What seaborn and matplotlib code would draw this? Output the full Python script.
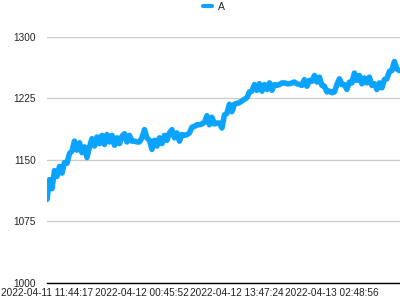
import matplotlib
matplotlib.use("Agg")
import matplotlib.pyplot as plt
import matplotlib.dates as mdates
import seaborn as sns
import pandas as pd

series_name = "A"
start_time = "2022-04-11 11:44:17"
step_seconds = 1234
values = [
    1102, 1126, 1115, 1137, 1130, 1142, 1134, 1147, 1146, 1158,
    1161, 1173, 1162, 1171, 1159, 1166, 1153, 1166, 1176, 1167,
    1178, 1170, 1180, 1169, 1181, 1172, 1180, 1168, 1177, 1170,
    1179, 1182, 1172, 1180, 1173, 1173, 1172, 1172, 1177, 1187,
    1177, 1174, 1163, 1174, 1167, 1177, 1170, 1180, 1174, 1183,
    1187, 1177, 1183, 1173, 1181, 1180, 1181, 1183, 1190, 1191,
    1193, 1193, 1194, 1196, 1204, 1193, 1202, 1194, 1195, 1195,
    1189, 1205, 1207, 1218, 1209, 1218, 1219, 1220, 1222, 1224,
    1226, 1233, 1234, 1242, 1235, 1243, 1234, 1242, 1236, 1244,
    1235, 1242, 1241, 1242, 1244, 1244, 1243, 1243, 1244, 1245,
    1243, 1242, 1241, 1248, 1240, 1247, 1246, 1253, 1245, 1251,
    1241, 1240, 1233, 1234, 1232, 1233, 1242, 1249, 1242, 1242,
    1236, 1245, 1244, 1256, 1247, 1253, 1243, 1250, 1244, 1251,
    1241, 1243, 1236, 1244, 1238, 1248, 1249, 1258, 1259, 1270,
    1261, 1259,
]
tick_labels = [
    "2022-04-11 11:44:17",
    "2022-04-12 00:45:52",
    "2022-04-12 13:47:24",
    "2022-04-13 02:48:56",
]
y_ticks = [1000, 1075, 1150, 1225, 1300]

times = pd.date_range(start=start_time, periods=len(values), freq=f"{step_seconds}s")
df = pd.DataFrame({"time": times, series_name: values})

sns.set_style("white")
plt.rcParams["font.family"] = ["Liberation Sans", "DejaVu Sans"]

fig = plt.figure(figsize=(4, 3), dpi=100)
ax = fig.add_axes([0.1175, 0.0567, 0.8825, 0.82])

color = "#0aa3ff"
sns.lineplot(data=df, x="time", y=series_name, ax=ax, color=color,
             linewidth=4.0, label=series_name, legend=False)

ax.set_ylim(1000, 1300)
ax.set_yticks(y_ticks)
ax.set_xlim(times[0], times[-1] + pd.Timedelta(seconds=300))
ax.set_xticks(pd.to_datetime(tick_labels))
ax.xaxis.set_major_formatter(mdates.DateFormatter("%Y-%m-%d %H:%M:%S"))

ax.grid(axis="y", color="#cccccc", linewidth=1)
ax.grid(axis="x", visible=False)
for s in ["top", "right", "left"]:
    ax.spines[s].set_visible(False)
ax.spines["bottom"].set_color("black")
ax.spines["bottom"].set_linewidth(1)
ax.tick_params(axis="both", length=0, labelsize=7.2, colors="#222222")
ax.tick_params(axis="y", pad=8)
ax.tick_params(axis="x", pad=3.5)
ax.set_xlabel("")
ax.set_ylabel("")

handles, labels = ax.get_legend_handles_labels()
leg = fig.legend(handles, labels, loc="upper center", bbox_to_anchor=(0.535, 1.015),
                 frameon=False, fontsize=7.5, handlelength=0.9, handletextpad=0.6,
                 borderaxespad=0.2)
for h in leg.get_lines():
    h.set_linewidth(3)

fig.savefig("out.png", dpi=100)
